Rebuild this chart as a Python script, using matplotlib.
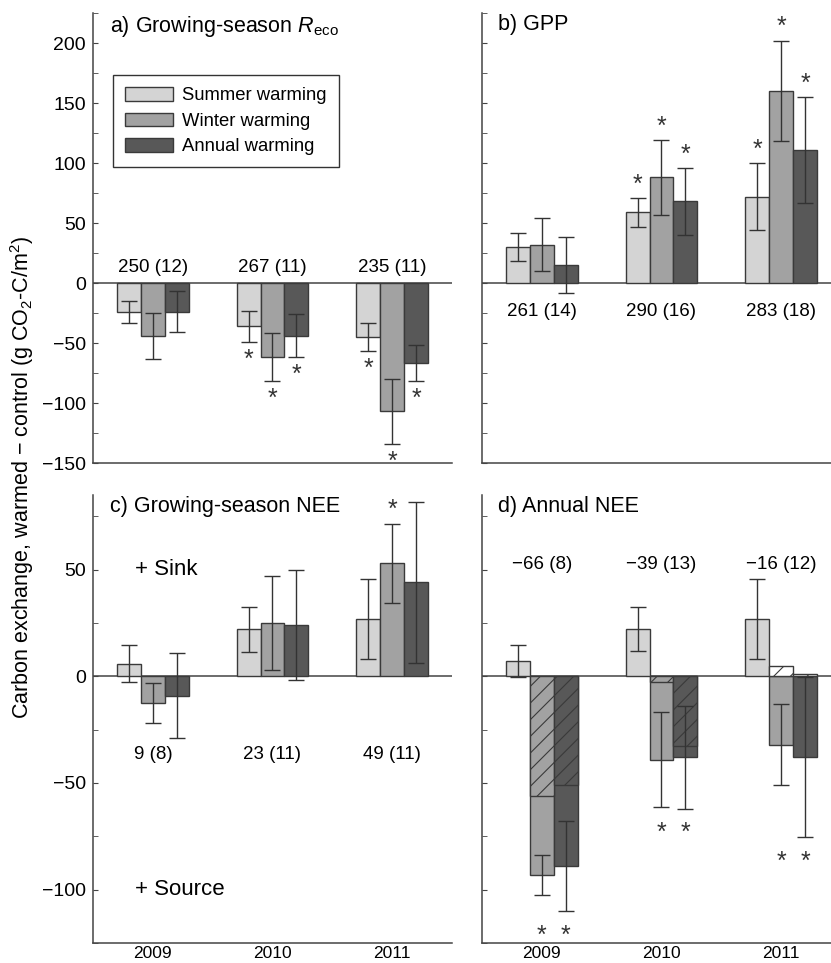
import numpy as np
import matplotlib
matplotlib.use('Agg')
import matplotlib.pyplot as plt
from matplotlib.ticker import MultipleLocator

plt.rcParams['font.family'] = ['Liberation Sans', 'DejaVu Sans']
plt.rcParams['mathtext.fontset'] = 'custom'
plt.rcParams['mathtext.rm'] = 'Liberation Sans'
plt.rcParams['mathtext.it'] = 'Liberation Sans:italic'
plt.rcParams['hatch.linewidth'] = 0.8

years = ['2009', '2010', '2011']
treatments = ['Summer warming', 'Winter warming', 'Annual warming']

# rows = treatment (summer, winter, annual), cols = year
reco = [[-24, -36, -45], [-44, -62, -107], [-24, -44, -67]]
reco_err = [[9, 13, 12], [19, 20, 27], [17, 18, 15]]
reco_sig = [[0, 1, 1], [0, 1, 1], [0, 1, 1]]
reco_ctrl = ['250 (12)', '267 (11)', '235 (11)']

gpp = [[30, 59, 72], [32, 88, 160], [15, 68, 111]]
gpp_err = [[12, 12, 28], [22, 31, 42], [23, 28, 44]]
gpp_sig = [[0, 1, 1], [0, 1, 1], [0, 1, 1]]
gpp_ctrl = ['261 (14)', '290 (16)', '283 (18)']

gsnee = [[6, 22, 27], [-12.5, 25, 53], [-9, 24, 44]]
gsnee_err = [[8.6, 10.5, 18.7], [9.5, 22, 18.6], [20, 25.6, 37.6]]
gsnee_sig = [[0, 0, 0], [0, 0, 1], [0, 0, 0]]
gsnee_ctrl = ['9 (8)', '23 (11)', '49 (11)']

annee = [[7.3, 22, 27], [-93, -39, -32], [-89, -38, -38]]
annee_err = [[7.4, 10.3, 18.8], [9.4, 22.4, 19], [21, 24, 37.5]]
annee_hatch = [[0, 0, 0], [-56, -2.7, 4.8], [-51, -32.5, 0.9]]
annee_sig = [[0, 0, 0], [1, 1, 1], [1, 1, 1]]
annee_ctrl = ['\u221266 (8)', '\u221239 (13)', '\u221216 (12)']

colors = ['#d4d4d4', '#a2a2a2', '#585858']
edge = '#3a3a3a'
x = np.arange(1, 4)
w = 0.2
starsize = 18

fig = plt.figure(figsize=(8.31, 9.63), dpi=100)
axa = fig.add_axes([0.1119, 0.5192, 0.432, 0.4673])
axb = fig.add_axes([0.580, 0.5192, 0.432, 0.4673])
axc = fig.add_axes([0.1119, 0.0208, 0.432, 0.4652])
axd = fig.add_axes([0.580, 0.0208, 0.432, 0.4652])


def bars(ax, vals, errs):
    for i in range(3):
        ax.bar(x + (i - 1) * w, vals[i], w, color=colors[i], edgecolor=edge,
               linewidth=1.0, label=treatments[i], zorder=2)
        ax.errorbar(x + (i - 1) * w, vals[i], yerr=errs[i], fmt='none',
                    ecolor='#333333', elinewidth=1.0, capsize=5.5,
                    capthick=1.0, zorder=3)


def stars(ax, vals, errs, sig, below):
    for i in range(3):
        for j in range(3):
            if not sig[i][j]:
                continue
            if below:
                yv = vals[i][j] - errs[i][j]
                ax.annotate('*', (x[j] + (i - 1) * w, yv), xytext=(0, -4),
                            textcoords='offset points', ha='center',
                            va='top', fontsize=starsize, color='#333333')
            else:
                yv = vals[i][j] + errs[i][j]
                ax.annotate('*', (x[j] + (i - 1) * w, yv), xytext=(0, 1),
                            textcoords='offset points', ha='center',
                            va='bottom', fontsize=starsize, color='#333333')


def style(ax, ylim, labels=True, xlabels=False):
    ax.set_xlim(0.5, 3.5)
    ax.set_ylim(*ylim)
    ax.axhline(0, color='#444444', lw=1.1, zorder=1)
    for s in ['top', 'right']:
        ax.spines[s].set_visible(False)
    for s in ['left', 'bottom']:
        ax.spines[s].set_color('#444444')
        ax.spines[s].set_linewidth(1.1)
    ax.yaxis.set_major_locator(MultipleLocator(50))
    ax.yaxis.set_minor_locator(MultipleLocator(25))
    ax.tick_params(axis='y', which='both', direction='in', length=3.5,
                   color='#444444', labelsize=14, pad=5)
    if not labels:
        ax.tick_params(axis='y', labelleft=False)
    ax.set_xticks(x)
    if xlabels:
        ax.set_xticklabels(years, fontsize=12.5)
        ax.tick_params(axis='x', length=0, pad=2)
    else:
        ax.tick_params(axis='x', length=0, labelbottom=False)


# a) Reco
bars(axa, reco, reco_err)
stars(axa, reco, reco_err, reco_sig, below=True)
for j in range(3):
    axa.text(x[j], 13, reco_ctrl[j], ha='center', va='center', fontsize=13.5)
style(axa, (-150, 225))
axa.text(0.047, 0.997, r'a) Growing-season $R_{\rm eco}$', transform=axa.transAxes,
         ha='left', va='top', fontsize=15.5)
axa.legend(loc='upper left', bbox_to_anchor=(0.056, 0.862), fontsize=13.3,
           frameon=True, fancybox=False, edgecolor='#333333', framealpha=1,
           borderaxespad=0, handlelength=2.6, handleheight=0.75,
           borderpad=0.65, labelspacing=0.45, handletextpad=0.5)

# b) GPP
bars(axb, gpp, gpp_err)
stars(axb, gpp, gpp_err, gpp_sig, below=False)
for j in range(3):
    axb.text(x[j], -24, gpp_ctrl[j], ha='center', va='center', fontsize=13.5)
style(axb, (-150, 225), labels=False)
axb.text(0.045, 0.997, 'b) GPP', transform=axb.transAxes,
         ha='left', va='top', fontsize=15.5)

# c) growing-season NEE
bars(axc, gsnee, gsnee_err)
stars(axc, gsnee, gsnee_err, gsnee_sig, below=False)
for j in range(3):
    axc.text(x[j], -36.5, gsnee_ctrl[j], ha='center', va='center', fontsize=13.5)
axc.text(0.85, 50, '+ Sink', ha='left', va='center', fontsize=16)
axc.text(0.85, -100, '+ Source', ha='left', va='center', fontsize=16)
style(axc, (-125, 85), xlabels=True)
axc.text(0.047, 0.997, 'c) Growing-season NEE', transform=axc.transAxes,
         ha='left', va='top', fontsize=15.5)

# d) annual NEE
bars(axd, annee, annee_err)
for i in range(1, 3):
    fc = ['white' if h > 0 else colors[i] for h in annee_hatch[i]]
    axd.bar(x + (i - 1) * w, annee_hatch[i], w, color=fc, edgecolor=edge,
            linewidth=1.0, hatch='//', zorder=2.5)
for j in range(3):
    flagged = [i for i in range(3) if annee_sig[i][j]]
    if flagged:
        low = min(annee[i][j] - annee_err[i][j] for i in flagged)
        for i in flagged:
            axd.annotate('*', (x[j] + (i - 1) * w, low), xytext=(0, -9),
                         textcoords='offset points', ha='center', va='top',
                         fontsize=starsize, color='#333333')
    axd.text(x[j], 52.3, annee_ctrl[j], ha='center', va='center', fontsize=13.5)
style(axd, (-125, 85), labels=False, xlabels=True)
axd.text(0.045, 0.997, 'd) Annual NEE', transform=axd.transAxes,
         ha='left', va='top', fontsize=15.5)

fig.text(0.026, 0.504, r'Carbon exchange, warmed $-$ control (g CO$_2$-C/m$^2$)',
         rotation=90, ha='center', va='center', fontsize=15.5)

fig.savefig('out.png', dpi=100)
